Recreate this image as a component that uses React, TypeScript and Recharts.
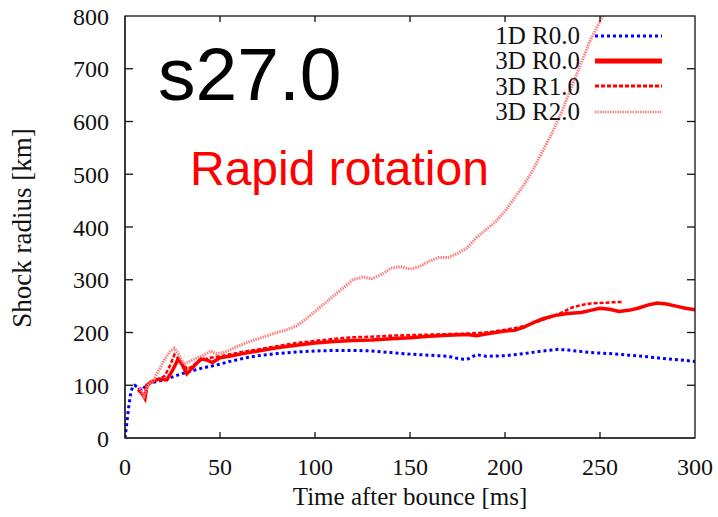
import React from "react"
import { LineChart, Line, XAxis, YAxis, Legend } from "recharts"

// time after bounce [ms] and shock radius [km]
const t1D = [0, 1, 2, 3, 4, 5, 7, 9, 11, 14, 18, 22, 26, 30, 35, 40, 45, 50, 55, 60, 65, 70, 80, 90, 100, 110, 120, 130, 140, 150, 160, 170, 176, 180, 185, 190, 200, 210, 220, 228, 235, 245, 255, 265, 275, 285, 295, 300]
const r1D = [0, 30, 60, 85, 97, 100, 96, 90, 100, 105, 108, 112, 117, 122, 127, 132, 136, 140, 145, 149, 153, 156, 160, 163, 165, 166, 166, 165, 162, 159, 157, 155, 150, 149, 158, 155, 156, 160, 165, 168, 166, 162, 160, 157, 154, 150, 147, 145]

const t3DR0 = [7, 9, 10.5, 11.5, 14, 18, 22, 25, 28, 30, 32.5, 36, 40, 43, 46, 50, 55, 62, 70, 80, 90, 100, 110, 120, 130, 140, 150, 160, 170, 180, 185, 190, 200, 205, 210, 215, 220, 226, 233, 240, 245, 250, 255, 260, 265, 270, 275, 280, 285, 290, 295, 300]
const r3DR0 = [92, 84, 75, 100, 107, 112, 110, 128, 150, 140, 122, 135, 150, 148, 143, 152, 155, 160, 165, 171, 176, 180, 183, 185, 186, 188, 190, 193, 195, 196, 194, 197, 203, 204, 210, 219, 226, 232, 236, 238, 242, 246, 244, 240, 242, 246, 252, 256, 254, 250, 246, 243]

const t3DR1 = [7, 9, 10.5, 12, 15, 18, 21, 24, 26, 28, 30, 33, 36, 40, 45, 50, 60, 70, 80, 90, 100, 110, 120, 130, 140, 150, 160, 170, 180, 190, 200, 210, 220, 230, 235, 240, 245, 250, 255, 262]
const r3DR1 = [95, 85, 75, 100, 107, 112, 118, 140, 158, 150, 142, 130, 138, 148, 152, 155, 162, 168, 174, 180, 184, 188, 191, 192, 194, 195, 196, 197, 198, 200, 205, 212, 224, 238, 247, 252, 255, 256, 257, 258]

const t3DR2 = [8, 10, 12, 15, 18, 21, 24, 26, 28, 31, 34, 38, 42, 45, 48, 52, 56, 60, 65, 70, 75, 80, 85, 90, 95, 100, 105, 110, 115, 120, 125, 130, 135, 140, 145, 150, 155, 160, 165, 170, 175, 180, 185, 190, 195, 200, 205, 210, 215, 220, 225, 230, 235, 240, 245, 250, 253, 258]
const r3DR2 = [95, 80, 100, 110, 130, 150, 165, 170, 160, 140, 145, 152, 158, 165, 160, 162, 168, 175, 182, 188, 194, 200, 205, 212, 225, 240, 255, 270, 285, 300, 305, 302, 310, 322, 325, 320, 325, 335, 342, 342, 350, 360, 380, 395, 410, 430, 455, 480, 510, 545, 580, 620, 665, 710, 755, 790, 810, 870]

const xTicks = [0, 50, 100, 150, 200, 250, 300]
const yTicks = [0, 100, 200, 300, 400, 500, 600, 700, 800]

const pts = (t: number[], r: number[]) => t.map((x, i) => ({ t: x, r: r[i] }))

const series = [
  { name: "1D R0.0", data: pts(t1D, r1D), stroke: "#0000ff", width: 3, dash: "3 3", legendWidth: 3 },
  { name: "3D R0.0", data: pts(t3DR0, r3DR0), stroke: "#ff0000", width: 3.5, dash: undefined, legendWidth: 5 },
  { name: "3D R1.0", data: pts(t3DR1, r3DR1), stroke: "#ff0000", width: 2.5, dash: "4 2", legendWidth: 3 },
  { name: "3D R2.0", data: pts(t3DR2, r3DR2), stroke: "#ff8080", width: 3, dash: "1.5 1", legendWidth: 2.5 },
]

const serif = "'Liberation Serif', 'Times New Roman', serif"
const sans = "'Liberation Sans', Arial, sans-serif"
const ink = "#111"

const W = 718, H = 517
const M = { top: 16, right: 23, bottom: 0, left: 0 }
const AX_H = 79, AX_W = 125
// plot box, same as the one recharts lays out from the margins and axis sizes
const PL = M.left + AX_W, PR = W - M.right, PT = M.top, PB = H - M.bottom - AX_H
const X0 = xTicks[0], X1 = xTicks[xTicks.length - 1]
const Y0 = yTicks[0], Y1 = yTicks[yTicks.length - 1]
const px = (v: number) => PL + ((v - X0) / (X1 - X0)) * (PR - PL)
const py = (v: number) => PB - ((v - Y0) / (Y1 - Y0)) * (PB - PT)

// gnuplot-style border with inward ticks on all four sides
function Frame() {
  return (
    <g stroke="#111" strokeWidth={1.3} fill="none">
      <rect x={PL} y={PT} width={PR - PL} height={PB - PT} />
      {xTicks.slice(1, -1).map((v) => (
        <g key={"x" + v}>
          <line x1={px(v)} y1={PB} x2={px(v)} y2={PB - 6} />
          <line x1={px(v)} y1={PT} x2={px(v)} y2={PT + 6} />
        </g>
      ))}
      {yTicks.slice(1, -1).map((v) => (
        <g key={"y" + v}>
          <line x1={PL} y1={py(v)} x2={PL + 8} y2={py(v)} />
          <line x1={PR} y1={py(v)} x2={PR - 8} y2={py(v)} />
        </g>
      ))}
    </g>
  )
}

function LegendBox() {
  return (
    <div style={{ fontFamily: serif, fontSize: 25, color: ink }}>
      {series.map((s) => (
        <div key={s.name} style={{ display: "flex", alignItems: "center", height: 25.3 }}>
          <div style={{ width: 112, textAlign: "right", lineHeight: "25px" }}>{s.name}</div>
          <svg width={67} height={10} style={{ marginLeft: 15 }}>
            <line x1={0} y1={5} x2={67} y2={5} stroke={s.stroke} strokeWidth={s.legendWidth} strokeDasharray={s.dash} />
          </svg>
        </div>
      ))}
    </div>
  )
}

export default function App() {
  const tickStyle = { fill: ink, fontSize: 24, fontFamily: serif }
  return (
    <div style={{ position: "absolute", left: 0, top: 0, width: W, height: H, background: "#fff" }}>
      <LineChart width={W} height={H} margin={M}>
        <XAxis type="number" dataKey="t" domain={[X0, X1]} ticks={xTicks} allowDataOverflow
          height={AX_H} stroke="#111" tickLine={false} tickSize={0} tickMargin={20} tick={tickStyle} />
        <YAxis type="number" dataKey="r" domain={[Y0, Y1]} ticks={yTicks} allowDataOverflow
          width={AX_W} stroke="#111" tickLine={false} tickSize={0} tickMargin={16} tick={tickStyle} />
        <Legend layout="vertical" align="center" verticalAlign="middle"
          wrapperStyle={{ left: 468, top: 23, width: 200 }} content={() => <LegendBox />} />
        {series.map((s) => (
          <Line key={s.name} name={s.name} data={s.data} dataKey="r"
            type="linear" stroke={s.stroke} strokeWidth={s.width} strokeDasharray={s.dash}
            dot={false} activeDot={false} isAnimationActive={false} />
        ))}
      </LineChart>
      <svg width={W} height={H} style={{ position: "absolute", left: 0, top: 0, pointerEvents: "none" }}>
        <Frame />
        <text x={158} y={100} fontFamily={sans} fontSize={75} fill="#000">s27.0</text>
        <text x={190} y={185} fontFamily={sans} fontSize={48} fill="#ff0000">Rapid rotation</text>
        <text x={410} y={505} fontFamily={serif} fontSize={25} fill={ink} textAnchor="middle">Time after bounce [ms]</text>
        <text x={0} y={0} fontFamily={serif} fontSize={27} fill={ink} textAnchor="middle"
          transform="translate(31 228) rotate(-90)">Shock radius [km]</text>
      </svg>
    </div>
  )
}
